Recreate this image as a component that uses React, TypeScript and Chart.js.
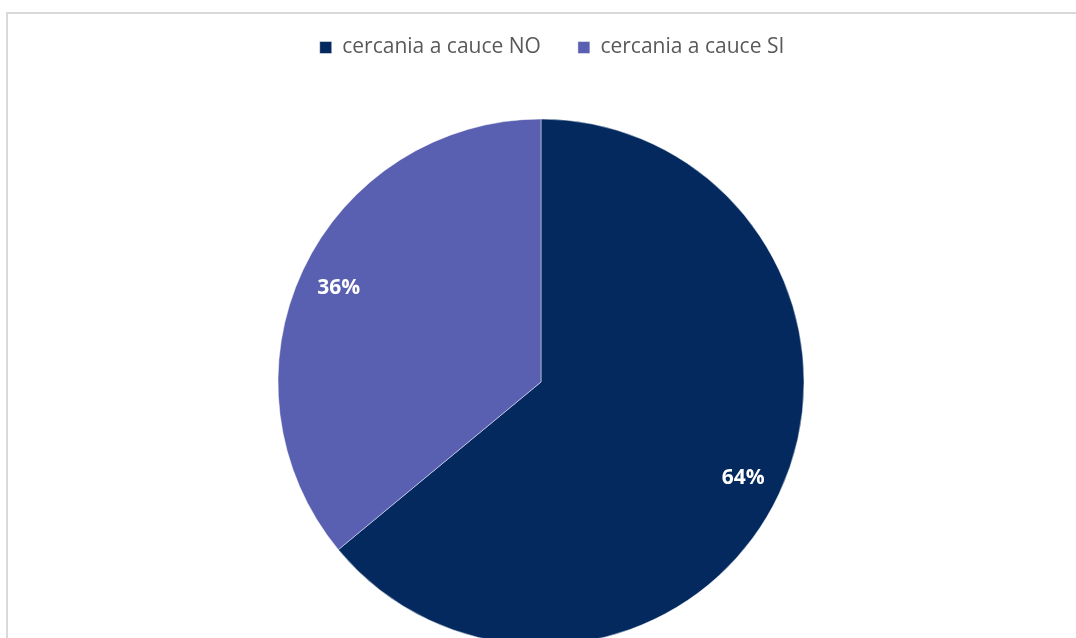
import React, { useEffect, useRef } from "react";
import { Chart, registerables } from "chart.js";

Chart.register(...registerables);

const categories = ["cercania a cauce NO", "cercania a cauce SI"];
const values = [64, 36];
const sliceLabels = ["64%", "36%"];
const colors = ["#03295F", "#5A60B1"];

const labelPlugin = {
  id: "sliceLabels",
  afterLayout(chart: any) {
    if (chart.legend) {
      chart.legend.left += 11;
      chart.legend.right += 11;
    }
  },
  afterDatasetsDraw(chart: any) {
    const meta = chart.getDatasetMeta(0);
    const ctx = chart.ctx;
    ctx.save();
    ctx.fillStyle = "#ffffff";
    ctx.font = "bold 21px 'Open Sans'";
    ctx.textAlign = "center";
    ctx.textBaseline = "middle";
    meta.data.forEach((arc: any, i: number) => {
      const mid = (arc.startAngle + arc.endAngle) / 2;
      const r = arc.outerRadius * 0.85;
      ctx.fillText(sliceLabels[i], arc.x + Math.cos(mid) * r, arc.y + Math.sin(mid) * r + 1);
    });
    ctx.restore();
  },
};

export default function App() {
  const ref = useRef<HTMLCanvasElement>(null);
  useEffect(() => {
    document.body.style.margin = "0";
    const chart = new Chart(ref.current!, {
      type: "pie",
      data: {
        labels: categories,
        datasets: [
          {
            data: values,
            backgroundColor: colors,
            borderColor: "rgba(255,255,255,0.45)",
            borderWidth: 1,
            radius: 263,
          } as any,
        ],
      },
      options: {
        animation: false,
        responsive: false,
        maintainAspectRatio: false,
        layout: { padding: { top: 0, bottom: 24 } },
        plugins: {
          tooltip: { enabled: false },
          legend: {
            position: "top",
            labels: {
              boxWidth: 12,
              boxHeight: 12,
              padding: 37,
              color: "#595959",
              font: { family: "'Open Sans'", size: 21 },
            },
          },
        },
      },
      plugins: [labelPlugin],
    });
    return () => chart.destroy();
  }, []);
  return (
    <div style={{ position: "fixed", left: 0, top: 0, width: 1076, height: 638, overflow: "hidden", background: "#fff" }}>
      <div
        style={{
          position: "absolute",
          left: 6,
          top: 12,
          width: 1100,
          height: 700,
          border: "2px solid #d9d9d9",
          boxSizing: "border-box",
        }}
      />
      <canvas ref={ref} width={1076} height={720} style={{ position: "absolute", left: 3, top: 0 }} />
    </div>
  );
}
